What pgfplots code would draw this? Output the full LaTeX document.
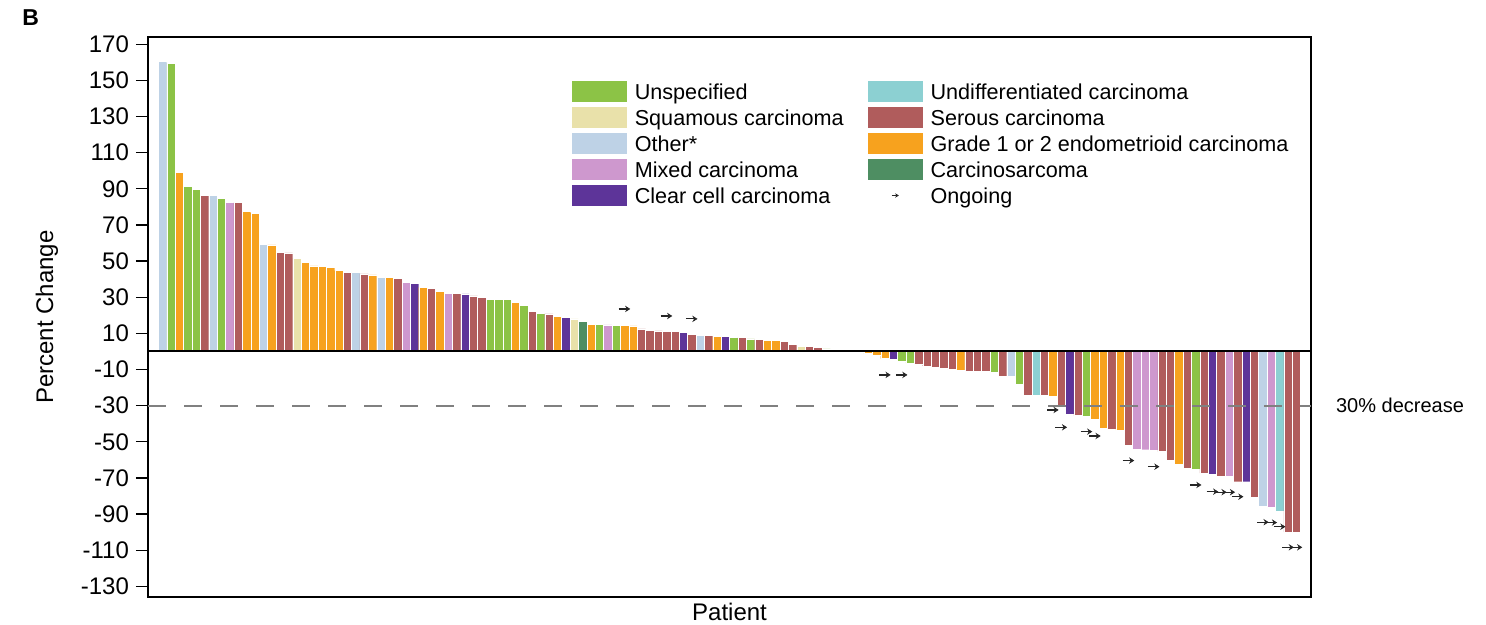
\documentclass[border=0pt]{standalone}
\usepackage{fontspec}
\setmainfont{Liberation Sans}
\usepackage{pgfplots}
\pgfplotsset{compat=1.18}
\usetikzlibrary{arrows.meta}

% histology colours
\definecolor{cUnspec}{RGB}{140,195,70}
\definecolor{cSquam}{RGB}{233,225,170}
\definecolor{cOther}{RGB}{190,210,230}
\definecolor{cMixed}{RGB}{206,152,206}
\definecolor{cClear}{RGB}{93,52,153}
\definecolor{cUndiff}{RGB}{140,208,210}
\definecolor{cSerous}{RGB}{176,92,92}
\definecolor{cEndo}{RGB}{247,162,30}
\definecolor{cCarcino}{RGB}{78,142,98}

% small arrow marking ongoing treatment
\pgfdeclareplotmark{ongoing}{%
  \draw[black!85, line width=0.6pt, -{Stealth[length=2.6pt,width=3.2pt]}] (-2.9pt,0pt) -- (2.9pt,0pt);}

\pgfplotsset{
  swatch/.style={legend image code/.code={\fill[#1] (0pt,-4pt) rectangle (27pt,6pt);}},
  bars/.style={ybar, bar width=1, bar shift=0pt, fill=#1, draw=white, line width=0.2pt, forget plot},
}

\begin{document}
\begin{tikzpicture}
\useasboundingbox (-74pt,-14pt) rectangle (669pt,298.5pt);
\begin{axis}[
  at={(0pt,0pt)}, anchor=south west,
  scale only axis, width=581.5pt, height=280pt,
  xmin=-1.73, xmax=136.73, ymin=-135.9, ymax=174.0,
  enlargelimits=false,
  clip mode=individual,
  xtick=\empty,
  ytick={-130,-110,...,170},
  ytick pos=left,
  tick align=outside,
  major tick length=6pt,
  major tick style={black, line width=0.6pt},
  axis line style={black, line width=0.8pt},
  /pgf/number format/assume math mode=true,
  yticklabel style={font=\fontsize{12}{14}\selectfont},
  xlabel={Patient},
  xlabel style={at={(rel axis cs:0.5,0)}, anchor=north, inner sep=0pt, yshift=-3pt, font=\fontsize{12}{14}\selectfont},
  ylabel={Percent Change},
  ylabel style={at={([xshift=-50.5pt]rel axis cs:0,0.5)}, anchor=center, font=\fontsize{12}{14}\selectfont},
  legend columns=2,
  legend cell align=left,
  legend style={at={(rel axis cs:0.3646,0.9214)}, anchor=north west,
    draw=none, fill=none, inner sep=0pt, outer sep=0pt,
    font=\fontsize{10.8}{12}\selectfont, row sep=0.5pt,
    nodes={inner sep=1pt, text height=8pt, text depth=2.5pt},
    /tikz/every odd column/.append style={column sep=3pt}},
]

% Unspecified
\addplot[bars=cUnspec] coordinates {(1,159.6) (3,91.2) (4,89.8) (7,84.6) (39,28.9) (40,28.9) (41,28.7) (43,25.6) (45,21.1) (52,15.0) (54,14.5) (68,7.6) (70,6.9) (79,1.4) (88,-5.5) (89,-6.5) (99,-11.4) (102,-18.0) (110,-36.0) (123,-65.1)};
% Squamous carcinoma
\addplot[bars=cSquam] coordinates {(16,51.6) (49,18.0) (76,2.7)};
% Other*
\addplot[bars=cOther] coordinates {(0,160.4) (6,86.2) (12,59.3) (23,43.6) (26,40.8) (64,9.0) (101,-13.7) (131,-85.8)};
% Mixed carcinoma
\addplot[bars=cMixed] coordinates {(8,82.3) (29,38.1) (34,32.2) (53,14.7) (116,-54.0) (117,-54.4) (118,-54.8) (127,-69.2) (132,-86.2)};
% Clear cell carcinoma
\addplot[bars=cClear] coordinates {(30,37.7) (36,31.8) (48,18.7) (62,10.4) (67,8.2) (87,-4.5) (108,-35.0) (125,-68.2) (129,-72.1)};
% Undifferentiated carcinoma
\addplot[bars=cUndiff] coordinates {(104,-24.0) (133,-88.2)};
% Serous carcinoma
\addplot[bars=cSerous] coordinates {(5,86.4) (9,82.3) (14,54.9) (15,54.5) (22,43.8) (24,42.9) (28,40.5) (32,35.0) (35,32.2) (37,30.7) (38,30.0) (44,22.2) (46,20.8) (57,12.5) (58,11.5) (59,11.3) (60,11.2) (61,11.0) (63,9.5) (65,8.8) (69,7.6) (71,6.5) (74,5.4) (75,4.0) (77,2.7) (78,2.1) (80,1.2) (90,-7.0) (91,-8.0) (92,-9.0) (93,-9.5) (94,-10.0) (96,-10.8) (97,-11.0) (98,-11.2) (100,-13.7) (103,-24.0) (105,-24.4) (107,-30.5) (109,-35.5) (113,-43.0) (115,-51.7) (119,-55.4) (120,-60.0) (122,-64.6) (124,-67.3) (126,-69.2) (128,-72.1) (130,-80.8) (134,-100.0) (135,-100.0)};
% Grade 1 or 2 endometrioid carcinoma
\addplot[bars=cEndo] coordinates {(2,98.9) (10,77.4) (11,76.5) (13,58.9) (17,49.4) (18,47.3) (19,47.2) (20,46.6) (21,44.7) (25,42.3) (27,40.8) (31,35.5) (33,33.1) (42,27.2) (47,19.3) (51,15.0) (55,14.3) (56,14.1) (66,8.2) (72,6.0) (73,6.0) (81,0.6) (82,0.3) (83,-0.3) (84,-1.2) (85,-2.0) (86,-4.0) (95,-10.3) (106,-25.0) (111,-37.5) (112,-42.5) (114,-43.5) (121,-62.4)};
% Carcinosarcoma
\addplot[bars=cCarcino] coordinates {(50,16.5)};

% baseline and 30% decrease threshold
\addplot[black, line width=1pt, forget plot] coordinates {(-1.73,0) (136.73,0)};
\addplot[gray, line width=1pt, dash pattern=on 9pt off 9pt, forget plot] coordinates {(-1.73,-30) (136.73,-30)};

% ongoing
\addplot[only marks, mark=ongoing, forget plot] coordinates {(55,23.5) (60,19.6) (63,18.0) (86,-13.0) (88,-13.0) (106,-32.4) (107,-42.0) (110,-44.4) (111,-46.8) (115,-60.4) (118,-63.8) (123,-73.9) (125,-77.6) (126,-77.9) (127,-77.9) (128,-80.4) (131,-94.5) (132,-94.7) (133,-97.0) (134,-108.4) (135,-108.4)};

\addlegendimage{swatch=cUnspec}\addlegendentry{\makebox[115.5pt][l]{Unspecified}}
\addlegendimage{swatch=cUndiff}\addlegendentry{Undifferentiated carcinoma}
\addlegendimage{swatch=cSquam}\addlegendentry{\makebox[115.5pt][l]{Squamous carcinoma}}
\addlegendimage{swatch=cSerous}\addlegendentry{Serous carcinoma}
\addlegendimage{swatch=cOther}\addlegendentry{\makebox[115.5pt][l]{Other*}}
\addlegendimage{swatch=cEndo}\addlegendentry{Grade 1 or 2 endometrioid carcinoma}
\addlegendimage{swatch=cMixed}\addlegendentry{\makebox[115.5pt][l]{Mixed carcinoma}}
\addlegendimage{swatch=cCarcino}\addlegendentry{Carcinosarcoma}
\addlegendimage{swatch=cClear}\addlegendentry{\makebox[115.5pt][l]{Clear cell carcinoma}}
\addlegendimage{legend image code/.code={\path[draw=none, fill=none] (0pt,-4pt) rectangle (27pt,6pt);
  \draw[black!85, line width=0.4pt, -{Stealth[length=1.8pt,width=2.2pt]}] (11.7pt,1pt) -- (15.3pt,1pt);}}
\addlegendentry{Ongoing}

\node[anchor=west, font=\fontsize{10}{12}\selectfont] at (axis cs:136.73,-30) [xshift=9pt] {30\% decrease};
\end{axis}
\node[anchor=north west, inner sep=0pt, font=\bfseries\fontsize{11.5}{13}\selectfont] at (-63pt,294pt) {B};
\end{tikzpicture}
\end{document}
